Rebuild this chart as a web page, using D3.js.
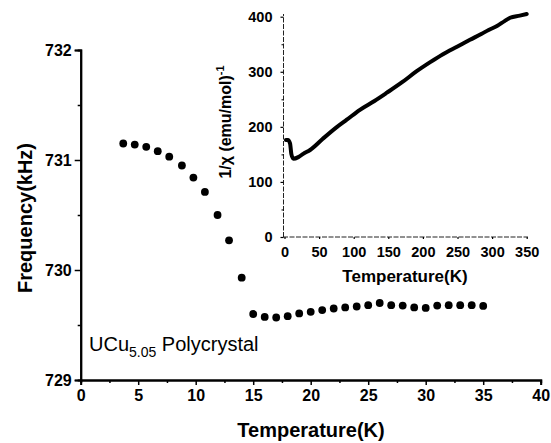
<!DOCTYPE html>
<html><head><meta charset="utf-8">
<script src="https://cdn.jsdelivr.net/npm/d3@7"></script>
<style>
body{margin:0;background:#fff;}
svg{display:block;}
text{font-family:"Liberation Sans",Arial,sans-serif;font-weight:bold;fill:#000;}
</style></head>
<body><svg id="c" width="551" height="443"></svg>
<script>
// Main plot data: temperature (K) vs NMR frequency (kHz)
const mainT = [3.7,4.7,5.7,6.7,7.7,8.8,9.8,10.8,11.9,12.9,14.0,
  15,16,17,18,19,20,21,22,23,24,25,26,27,28,29,30,31,32,33,34,35];
const mainF = [731.15,731.14,731.12,731.08,731.03,730.95,730.84,730.71,730.50,730.27,729.93,
  729.60,729.573,729.568,729.58,729.605,729.62,729.636,729.65,729.66,729.668,729.68,729.70,
  729.68,729.677,729.66,729.655,729.677,729.68,729.68,729.68,729.673];
const mainXTicks = [0,5,10,15,20,25,30,35,40];
const mainYTicks = [729,730,731,732];
// Inset data: temperature (K) vs inverse susceptibility
const insetT = [2,5,8,10,13,20,27,37,55,76,90,109,130,148,170,191,210,229,250,268,285,295,307,318,326,340,350];
const insetV = [176,176,170,150,142,145,151,158,178,200,213,231,247,262,281,301,317,332,346,358,369,376,383,392,398,402,405];
const insetXTicks = [0,50,100,150,200,250,300,350];
const insetYTicks = [0,100,200,300,400];

const svg = d3.select("#c");

// ---------- main plot ----------
const x = d3.scaleLinear().domain([0,40]).range([80.7,540.7]);
const y = d3.scaleLinear().domain([729,732]).range([380,50]);

const gx = svg.append("g").attr("transform","translate(0,380)")
  .call(d3.axisBottom(x).tickValues(mainXTicks).tickSize(5).tickPadding(5).tickFormat(d3.format("d")));
svg.append("g").attr("transform","translate(0,380)")
  .call(d3.axisBottom(x).tickValues(d3.range(2.5,40,5)).tickSize(3).tickFormat(""));
const gy = svg.append("g").attr("transform","translate(80.7,0)")
  .call(d3.axisLeft(y).tickValues(mainYTicks).tickSize(6).tickPadding(3).tickFormat(d3.format("d")));
svg.append("g").attr("transform","translate(80.7,0)")
  .call(d3.axisLeft(y).tickValues([729.5,730.5,731.5]).tickSize(3).tickFormat(""));
svg.selectAll(".domain").attr("stroke","#000").attr("stroke-width",2);
svg.selectAll(".tick line").attr("stroke","#000").attr("stroke-width",1.5);
gx.selectAll("text").style("font-size","16px").style("font-family","Liberation Sans, Arial").style("font-weight","bold");
gy.selectAll("text").style("font-size","16px").style("font-family","Liberation Sans, Arial").style("font-weight","bold");

svg.append("g").selectAll("circle").data(mainT).join("circle")
  .attr("cx",(d)=>x(d)).attr("cy",(d,i)=>y(mainF[i])).attr("r",3.9).attr("fill","#000");

svg.append("text").attr("x",311).attr("y",437).attr("text-anchor","middle")
  .style("font-size","20px").text("Temperature(K)");
svg.append("text").attr("transform","translate(32,218) rotate(-90)").attr("text-anchor","middle")
  .style("font-size","20px").text("Frequency(kHz)");

const lab = svg.append("text").attr("x",89).attr("y",351).style("font-size","20px").style("font-weight","normal");
lab.append("tspan").text("UCu");
lab.append("tspan").attr("dy",6).style("font-size","14px").text("5.05");
lab.append("tspan").attr("dy",-6).text(" Polycrystal");

// ---------- inset ----------
const xi = d3.scaleLinear().domain([0,350]).range([284.5,526.7]);
const yi = d3.scaleLinear().domain([0,400]).range([237,16.7]);

const gxi = svg.append("g").attr("transform","translate(0,237)")
  .call(d3.axisBottom(xi).tickValues(insetXTicks).tickSize(2).tickPadding(8).tickFormat(d3.format("d")));
gxi.select(".domain").attr("d","M283,0H528");
const gyi = svg.append("g").attr("transform","translate(283.5,0)")
  .call(d3.axisLeft(yi).tickValues(insetYTicks).tickSize(3).tickPadding(8).tickFormat(d3.format("d")));
gyi.select(".domain").attr("d","M0,237V14");
svg.append("g").attr("transform","translate(283.5,0)")
  .call(d3.axisLeft(yi).tickValues([50,150,250,350]).tickSize(2).tickFormat("")).select(".domain").remove();
[gxi,gyi].forEach(g=>{
  g.select(".domain").attr("stroke","#222").attr("stroke-width",1).attr("stroke-dasharray","5,1.5");
  g.selectAll(".tick line").attr("stroke","#000").attr("stroke-width",1.2);
  g.selectAll("text").style("font-size","14.5px").style("font-family","Liberation Sans, Arial").style("font-weight","bold");
});

svg.append("path").datum(insetT)
  .attr("d", d3.line().x(d=>xi(d)).y((d,i)=>yi(insetV[i])).curve(d3.curveMonotoneX))
  .attr("fill","none").attr("stroke","#000").attr("stroke-width",4).attr("stroke-linejoin","round").attr("stroke-linecap","round");

svg.append("text").attr("x",405).attr("y",282).attr("text-anchor","middle")
  .style("font-size","17px").text("Temperature(K)");
const yl = svg.append("text").attr("transform","translate(231,122) rotate(-90)").attr("text-anchor","middle")
  .style("font-size","16px");
yl.append("tspan").text("1/χ (emu/mol)");
yl.append("tspan").attr("dy",-7).style("font-size","11px").text("-1");
</script></body></html>
